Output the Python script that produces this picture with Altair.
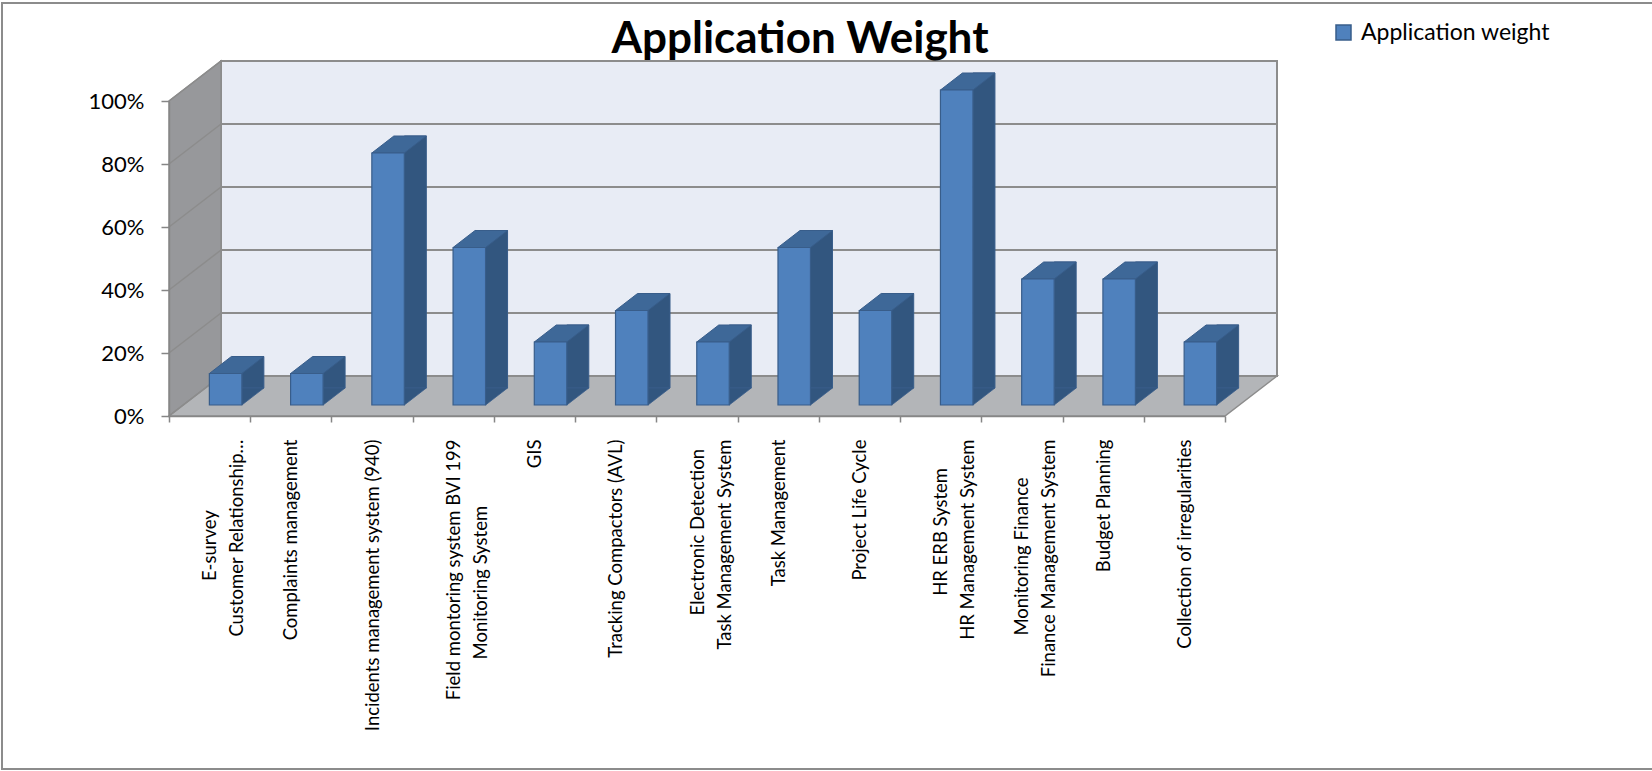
import altair as alt
import pandas as pd

# ---- data -------------------------------------------------------------
categories = [
    "E-survey\nCustomer Relationship…",
    "Complaints management",
    "Incidents management system (940)",
    "Field montoring system BVI 199\nMonitoring System",
    "GIS",
    "Tracking  Compactors (AVL)",
    "Electronic Detection\nTask Management System",
    "Task Management",
    "Project Life Cycle",
    "HR ERB  System\nHR Management System",
    "Monitoring Finance\nFinance  Management System",
    "Budget Planning",
    "Collection of irregularities",
]
weights = [0.10, 0.10, 0.80, 0.50, 0.20, 0.30, 0.20, 0.50, 0.30, 1.00, 0.40, 0.40, 0.20]
series_name = "Application weight"
y_ticks = [0.0, 0.2, 0.4, 0.6, 0.8, 1.0]
chart_title = "Application Weight"

# ---- layout / style -----------------------------------------------------
W, H = 1056, 315            # front plane of the plot
DX, DY = 52, 40             # depth of walls and floor
BOX, BOY = 16, 11           # bar front face shift into the depth
BDX, BDY = 22, 17           # bar depth
N = len(categories)
HW = 0.2 * W / N            # half width of a bar front (0.4 of a band)

FONT = "Lato"
FRONT = "#4F81BD"
TOP = "#3E6898"
SIDE = "#32567F"
EDGE = "#385D8A"
BACK = "#E8ECF5"
FLOOR = "#B3B5B8"
SIDEWALL = "#97989B"
GRID = "#8C8C8C"
AXIS = "#868686"
NBSP = "\u00a0"
ZWSP = "\u200b"   # keeps the trailing padding from being trimmed


def centre_lines(name):
    """Pad shorter lines so that stacked lines sit centred on each other."""
    lines = name.split("\n")
    if len(lines) == 1:
        return name
    longest = max(len(s) for s in lines)
    return "\n".join(
        s + NBSP * round((longest - len(s)) * 1.05) + ZWSP for s in lines
    )


bars_df = pd.DataFrame({
    "label": [centre_lines(c) for c in categories],
    "weight": weights,
    "series": series_name,
})
one_row = pd.DataFrame({"v": [0]})
grid_df = pd.DataFrame({"v": y_ticks})

yscale = alt.Scale(domain=[0, 1], nice=False, zero=True)
xscale = alt.Scale(paddingInner=0, paddingOuter=0)

# ---- frame, walls and floor --------------------------------------------
frame = alt.Chart(one_row).mark_rect(
    fill="white", stroke="#8C8C8C", strokeWidth=2
).encode(
    x=alt.value(-167), x2=alt.value(W + 481),
    y=alt.value(-98), y2=alt.value(H + 353),
)

back_wall = alt.Chart(one_row).mark_rect(
    fill=BACK, stroke=GRID, strokeWidth=2, yOffset=-DY, y2Offset=-DY
).encode(
    x=alt.value(DX), x2=alt.value(W + DX),
    y=alt.YDatum(1, type="quantitative", scale=yscale, axis=None),
    y2=alt.datum(0),
)

side_path = f"M0,0 L0,{-H} L{DX},{-H - DY} L{DX},{-DY} Z"
side_wall = alt.Chart(one_row).mark_point(
    shape=side_path, size=4, filled=True, fill=SIDEWALL, stroke=GRID,
    strokeWidth=1.5, opacity=1
).encode(
    x=alt.value(0),
    y=alt.YDatum(0, type="quantitative", scale=yscale, axis=None),
)

floor_path = f"M0,0 L{W},0 L{W + DX},{-DY} L{DX},{-DY} Z"
floor = alt.Chart(one_row).mark_point(
    shape=floor_path, size=4, filled=True, fill=FLOOR, stroke=GRID,
    strokeWidth=1.5, opacity=1
).encode(
    x=alt.value(0),
    y=alt.YDatum(0, type="quantitative", scale=yscale, axis=None),
)

back_grid = alt.Chart(grid_df).mark_rule(
    color=GRID, strokeWidth=2, yOffset=-DY
).encode(
    x=alt.value(DX), x2=alt.value(W + DX),
    y=alt.Y("v:Q", scale=yscale, axis=None),
)

side_grid = alt.Chart(grid_df).mark_rule(
    color=GRID, strokeWidth=1.5, y2Offset=-DY
).encode(
    x=alt.value(0), x2=alt.value(DX),
    y=alt.Y("v:Q", scale=yscale, axis=None),
    y2="v:Q",
)

# ---- 3D bars --------------------------------------------------------------
base = alt.Chart(bars_df)
x_plain = alt.X("label:N", sort=None, scale=xscale, axis=None)

bar_side = base.mark_bar(
    width=BDX, fill=SIDE, stroke=EDGE, strokeWidth=1,
    xOffset=BOX + HW + BDX / 2, x2Offset=BOX + HW + BDX / 2,
    yOffset=-(BOY + BDY), y2Offset=-(BOY + BDY),
).encode(
    x=x_plain,
    y=alt.Y("weight:Q", scale=yscale, stack=None, axis=None),
    y2=alt.datum(0),
)

foot_path = f"M{HW},0 L{HW},{-BDY} L{HW + BDX},{-BDY} Z"
bar_foot = base.mark_point(
    shape=foot_path, size=4, filled=True, fill=SIDE, stroke=EDGE,
    strokeWidth=0.8, opacity=1, xOffset=BOX, yOffset=-BOY,
).encode(
    x=x_plain,
    y=alt.YDatum(0, type="quantitative", scale=yscale, axis=None),
)

top_path = f"M{-HW},0 L{HW},0 L{HW + BDX},{-BDY} L{-HW + BDX},{-BDY} Z"
bar_top = base.mark_point(
    shape=top_path, size=4, filled=True, fill=TOP, stroke=EDGE,
    strokeWidth=1, opacity=1, xOffset=BOX, yOffset=-BOY,
).encode(
    x=x_plain,
    y=alt.Y("weight:Q", scale=yscale, stack=None, axis=None),
)

bar_front = base.mark_bar(
    width={"band": 0.4}, stroke=EDGE, strokeWidth=1.2,
    xOffset=BOX, x2Offset=BOX, yOffset=-BOY, y2Offset=-BOY,
).encode(
    x=alt.X(
        "label:N", sort=None, scale=xscale,
        axis=alt.Axis(
            title=None, labelAngle=-90,
            labelExpr="split(datum.label, '\\n')",
            labelFont=FONT, labelFontSize=18.5, labelColor="black",
            labelLineHeight=27, labelPadding=17, labelLimit=600,
            labelOverlap=False, tickBand="extent", tickSize=6,
            tickColor=AXIS, tickWidth=1.5, domainColor=AXIS,
            domainWidth=1.5, zindex=1,
        ),
    ),
    y=alt.Y(
        "weight:Q", scale=yscale, stack=None,
        axis=alt.Axis(
            title=None, values=y_ticks, format=".0%", grid=False,
            labelFont=FONT, labelFontSize=22, labelColor="black",
            labelPadding=17, tickSize=8, tickColor=AXIS, tickWidth=1.5,
            domainColor=AXIS, domainWidth=1.5, zindex=1,
        ),
    ),
    y2=alt.datum(0),
    color=alt.Color(
        "series:N",
        scale=alt.Scale(range=[FRONT]),
        legend=alt.Legend(
            title=None, orient="none", legendX=1163, legendY=-80,
            symbolType="square", symbolSize=225, symbolStrokeColor=EDGE,
            symbolStrokeWidth=1.5, symbolFillColor=FRONT,
            labelFont=FONT, labelFontSize=23, labelColor="black",
            labelOffset=6, labelLimit=400, padding=0,
        ),
    ),
)

chart = alt.layer(
    frame, back_wall, side_wall, floor, back_grid, side_grid,
    bar_side, bar_foot, bar_top, bar_front,
).resolve_axis(
    x="independent", y="independent"
).properties(
    width=W, height=H,
    title=alt.TitleParams(
        chart_title, font=FONT, fontSize=44, fontWeight="bold",
        color="black", anchor="middle", frame="group", dx=103, dy=70,
        offset=10,
    ),
    autosize=alt.AutoSizeParams(type="none"),
    padding={"left": 169, "top": 101, "right": 427, "bottom": 355},
).configure_view(
    strokeWidth=0
).configure(
    background="white"
)

chart.save("out.html", embed_options={"renderer": "svg", "actions": False})
